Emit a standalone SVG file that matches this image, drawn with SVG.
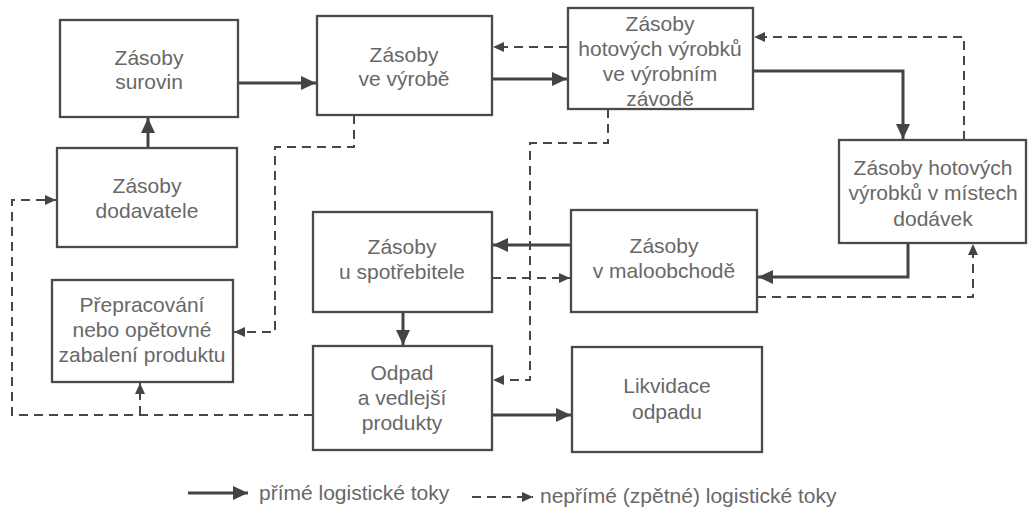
<svg xmlns="http://www.w3.org/2000/svg" width="1028" height="513" viewBox="0 0 1028 513">
<defs>
<style>
.box{fill:#fff;stroke:#4a4a4a;stroke-width:2.3}
.t{font-family:"Liberation Sans",Arial,sans-serif;font-size:21px;fill:#686868;text-anchor:middle}
.lg{font-family:"Liberation Sans",Arial,sans-serif;font-size:21px;fill:#686868}
.s{fill:none;stroke:#444;stroke-width:3}
.d{fill:none;stroke:#474747;stroke-width:2;stroke-dasharray:9 6}
</style>
<marker id="ah" markerUnits="userSpaceOnUse" markerWidth="16" markerHeight="14" refX="15" refY="7" orient="auto">
<path d="M0,0 L15,7 L0,14 Z" fill="#444"/>
</marker>
<marker id="dh" markerUnits="userSpaceOnUse" markerWidth="12" markerHeight="10" refX="11" refY="5" orient="auto">
<path d="M0,0 L11,5 L0,10 Z" fill="#444"/>
</marker>
</defs>
<rect width="1028" height="513" fill="#fff"/>
<g id="connectors">
<path class="s" d="M238,83 H316" marker-end="url(#ah)"/>
<path class="s" d="M148,148 V118" marker-end="url(#ah)"/>
<path class="s" d="M492,79 H567" marker-end="url(#ah)"/>
<path class="s" d="M753,71 H903 V139" marker-end="url(#ah)"/>
<path class="s" d="M908,243 V277 H758" marker-end="url(#ah)"/>
<path class="s" d="M571,245 H493" marker-end="url(#ah)"/>
<path class="s" d="M403,312 V345" marker-end="url(#ah)"/>
<path class="s" d="M492,415 H571" marker-end="url(#ah)"/>
<path class="d" d="M568,47 H493" marker-end="url(#dh)"/>
<path class="d" d="M964,140 V37 H754" marker-end="url(#dh)"/>
<path class="d" d="M757,297 H973 V244" marker-end="url(#dh)"/>
<path class="d" d="M492,278 H570" marker-end="url(#dh)"/>
<path class="d" d="M608,109 V143 H530 V380 H493" marker-end="url(#dh)"/>
<path class="d" d="M354,115 V147 H275 V332 H234" marker-end="url(#dh)"/>
<path class="d" d="M313,415 H12 V200 H56" marker-end="url(#dh)"/>
<path class="d" d="M140,415 V383" marker-end="url(#dh)"/>
</g>
<g id="zasoby-surovin">
<rect class="box" x="60" y="20" width="178" height="97"/>
<text class="t" x="149" y="65">Zásoby</text>
<text class="t" x="149" y="89">surovin</text>
</g>
<g id="zasoby-ve-vyrobe">
<rect class="box" x="317" y="16" width="175" height="99"/>
<text class="t" x="404" y="62">Zásoby</text>
<text class="t" x="404" y="86">ve výrobě</text>
</g>
<g id="zasoby-hotovych-zavod">
<rect class="box" x="568" y="8" width="185" height="101"/>
<text class="t" x="660" y="31">Zásoby</text>
<text class="t" x="660" y="56">hotových výrobků</text>
<text class="t" x="660" y="81">ve výrobním</text>
<text class="t" x="660" y="106">závodě</text>
</g>
<g id="zasoby-mista-dodavek">
<rect class="box" x="839" y="140" width="187" height="103"/>
<text class="t" x="933" y="175">Zásoby hotových</text>
<text class="t" x="933" y="200">výrobků v místech</text>
<text class="t" x="933" y="226">dodávek</text>
</g>
<g id="zasoby-maloobchod">
<rect class="box" x="571" y="210" width="186" height="102"/>
<text class="t" x="664" y="253">Zásoby</text>
<text class="t" x="664" y="278">v maloobchodě</text>
</g>
<g id="zasoby-spotrebitel">
<rect class="box" x="313" y="212" width="179" height="100"/>
<text class="t" x="402" y="254">Zásoby</text>
<text class="t" x="402" y="279">u spotřebitele</text>
</g>
<g id="odpad">
<rect class="box" x="313" y="346" width="179" height="104"/>
<text class="t" x="402" y="380">Odpad</text>
<text class="t" x="402" y="405">a vedlejší</text>
<text class="t" x="402" y="430">produkty</text>
</g>
<g id="likvidace">
<rect class="box" x="572" y="347" width="190" height="105"/>
<text class="t" x="667" y="393">Likvidace</text>
<text class="t" x="667" y="419">odpadu</text>
</g>
<g id="zasoby-dodavatele">
<rect class="box" x="57" y="148" width="180" height="99"/>
<text class="t" x="147" y="193">Zásoby</text>
<text class="t" x="147" y="218">dodavatele</text>
</g>
<g id="prepracovani">
<rect class="box" x="52" y="280" width="181" height="102"/>
<text class="t" x="142" y="312">Přepracování</text>
<text class="t" x="142" y="337">nebo opětovné</text>
<text class="t" x="142" y="362">zabalení produktu</text>
</g>
<g id="legend">
<path class="s" d="M188,493 H248" marker-end="url(#ah)"/>
<text class="lg" x="259" y="500">přímé logistické toky</text>
<path class="d" d="M472,497 H533" marker-end="url(#dh)"/>
<text class="lg" x="540" y="503">nepřímé (zpětné) logistické toky</text>
</g>
</svg>
